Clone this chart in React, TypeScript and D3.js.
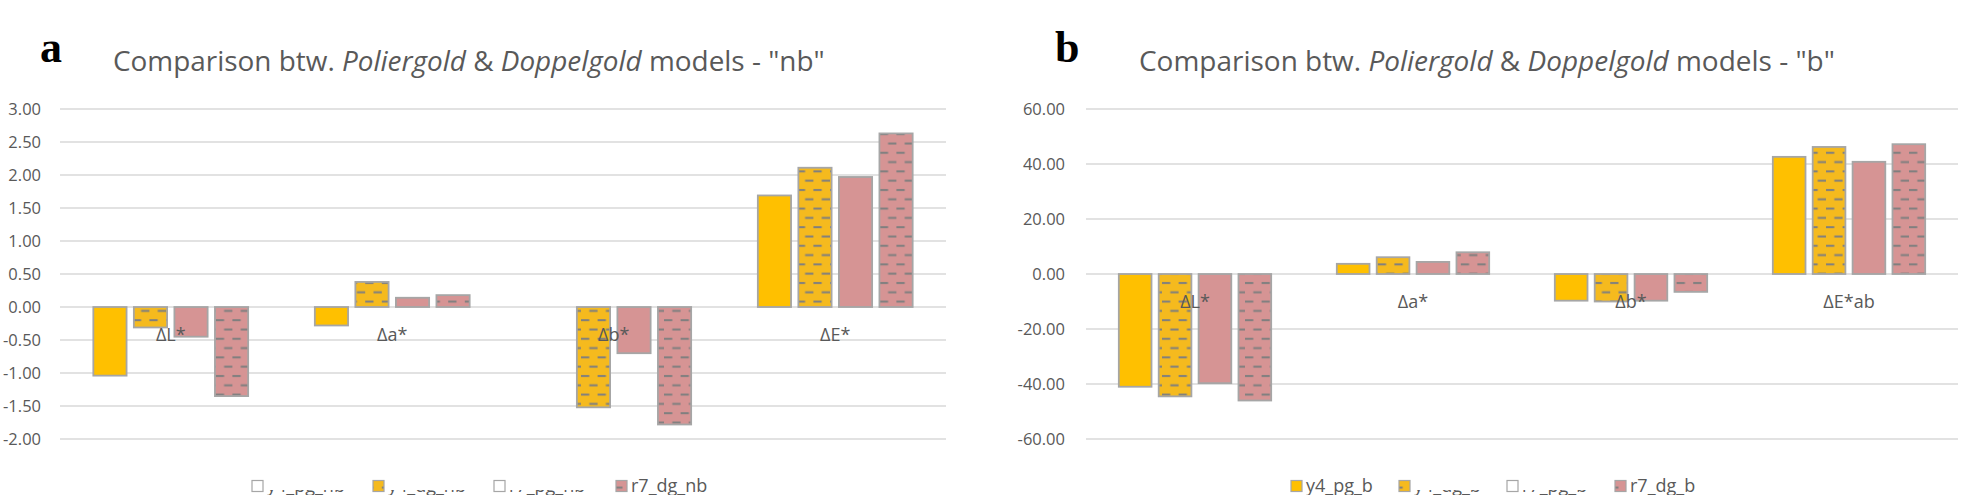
import React, { useLayoutEffect, useRef, useState } from "react";
import * as d3 from "d3";

// ---------- data ----------
const categoriesNb = ["ΔL*", "Δa*", "Δb*", "ΔE*"];
const categoriesB = ["ΔL*", "Δa*", "Δb*", "ΔE*ab"];
const seriesNb = ["y4_pg_nb", "y4_dg_nb", "r7_pg_nb", "r7_dg_nb"];
const seriesB = ["y4_pg_b", "y4_dg_b", "r7_pg_b", "r7_dg_b"];

const y4PgNb = [-1.04, -0.28, 0.0, 1.69];
const y4DgNb = [-0.31, 0.38, -1.52, 2.11];
const r7PgNb = [-0.45, 0.14, -0.7, 1.97];
const r7DgNb = [-1.35, 0.18, -1.78, 2.63];

const y4PgB = [-41.0, 3.7, -9.7, 42.6];
const y4DgB = [-44.5, 6.1, -10.0, 46.2];
const r7PgB = [-39.7, 4.4, -9.7, 40.8];
const r7DgB = [-46.0, 7.9, -6.5, 47.2];

const ticksNb = [-2, -1.5, -1, -0.5, 0, 0.5, 1, 1.5, 2, 2.5, 3];
const ticksB = [-60, -40, -20, 0, 20, 40, 60];

// ---------- styles ----------
const GOLD = "#FFC000";
const GOLD_PAT = "#F5BA1E";
const PINK = "#D69494";
const BORDER = "#A6A6A6";
const GRID = "#D9D9D9";
const TEXT = "#595959";
const FONT = "'Open Sans', sans-serif";

const fmt = d3.formatLocale({
  decimal: ".",
  thousands: ",",
  grouping: [3],
  currency: ["", ""],
  minus: "-",
}).format(".2f");

type Panel = {
  letter: string;
  letterX: number;
  titleX: number;
  titleLen: number;
  suffix: string;
  categories: string[];
  series: string[];
  values: number[][];
  ticks: number[];
  x0: number;
  x1: number;
  yTop: number;
  yBottom: number;
  tickRight: number;
  legendX: number[];
  legendShown: boolean[];
  legendFill: string[];
};

const panels: Panel[] = [
  {
    letter: "a",
    letterX: 40,
    titleX: 113,
    titleLen: 712,
    suffix: '"nb"',
    categories: categoriesNb,
    series: seriesNb,
    values: [y4PgNb, y4DgNb, r7PgNb, r7DgNb],
    ticks: ticksNb,
    x0: 60,
    x1: 946,
    yTop: 109,
    yBottom: 439,
    tickRight: 41,
    legendX: [252, 373, 494, 616],
    legendShown: [false, false, false, true],
    legendFill: ["#FFFFFF", "url(#patGold)", "#FFFFFF", "url(#patPink)"],
  },
  {
    letter: "b",
    letterX: 1055,
    titleX: 1139,
    titleLen: 696,
    suffix: '"b"',
    categories: categoriesB,
    series: seriesB,
    values: [y4PgB, y4DgB, r7PgB, r7DgB],
    ticks: ticksB,
    x0: 1086,
    x1: 1958,
    yTop: 109,
    yBottom: 439,
    tickRight: 1065,
    legendX: [1291, 1399, 1507, 1615],
    legendShown: [true, false, false, true],
    legendFill: [GOLD, "url(#patGold)", "#FFFFFF", "url(#patPink)"],
  },
];

const seriesFill = [GOLD, "url(#patGold)", PINK, "url(#patPink)"];

function Title({ x, len, suffix }: { x: number; len: number; suffix: string }) {
  const ref = useRef<SVGTextElement>(null);
  const [sx, setSx] = useState(1);
  useLayoutEffect(() => {
    if (ref.current) {
      const w = ref.current.getBBox().width;
      if (w > 0) setSx(len / w);
    }
  }, [len]);
  return (
    <g transform={`translate(${x},71) scale(${sx},1)`}>
      <text ref={ref} x={0} y={0} fontFamily={FONT} fontSize={27} fill={TEXT}>
        <tspan>Comparison btw. </tspan>
        <tspan fontStyle="italic">Poliergold</tspan>
        <tspan> &amp; </tspan>
        <tspan fontStyle="italic">Doppelgold</tspan>
        <tspan>{" models - " + suffix}</tspan>
      </text>
    </g>
  );
}

function ChartPanel({ p, idx }: { p: Panel; idx: number }) {
  const y = d3
    .scaleLinear()
    .domain([p.ticks[0], p.ticks[p.ticks.length - 1]])
    .range([p.yBottom, p.yTop]);
  const xCat = d3.scaleBand<string>().domain(p.categories).range([p.x0, p.x1]);
  const band = xCat.bandwidth();
  const step = band * 0.183;
  const barW = band * 0.15;
  const pin = (step - barW) / step;
  const xSer = d3
    .scaleBand<string>()
    .domain(p.series)
    .range([0, 4 * step])
    .paddingInner(pin)
    .paddingOuter(pin / 2);
  const groupOff = (band - 4 * step) / 2;
  const y0 = y(0);

  return (
    <g>
      <text
        x={p.letterX}
        y={62}
        fontFamily="'Liberation Serif', 'Times New Roman', serif"
        fontWeight="bold"
        fontSize={44}
        fill="#000"
      >
        {p.letter}
      </text>
      <Title x={p.titleX} len={p.titleLen} suffix={p.suffix} />
      {p.ticks.map((t) => (
        <g key={t}>
          <line
            x1={p.x0}
            x2={p.x1}
            y1={y(t)}
            y2={y(t)}
            stroke={GRID}
            strokeWidth={1.5}
          />
          <text
            x={p.tickRight}
            y={y(t)}
            dy="0.36em"
            textAnchor="end"
            fontFamily={FONT}
            fontSize={16.5}
            fill={TEXT}
          >
            {fmt(t)}
          </text>
        </g>
      ))}
      {p.series.map((s, si) =>
        p.categories.map((c, ci) => {
          const v = p.values[si][ci];
          if (v === 0) return null;
          const yv = y(v);
          return (
            <rect
              key={s + c}
              x={(xCat(c) as number) + groupOff + (xSer(s) as number)}
              y={Math.min(yv, y0)}
              width={xSer.bandwidth()}
              height={Math.abs(yv - y0)}
              fill={seriesFill[si]}
              stroke={BORDER}
              strokeWidth={1.8}
            />
          );
        })
      )}
      {p.categories.map((c) => (
        <text
          key={c}
          x={(xCat(c) as number) + band / 2}
          y={y0 + 34}
          textAnchor="middle"
          fontFamily={FONT}
          fontSize={18}
          fill={TEXT}
        >
          {c}
        </text>
      ))}
      <defs>
        <clipPath id={"legclip" + idx}>
          <rect x={0} y={490} width={1961} height={10} />
        </clipPath>
      </defs>
      {p.series.map((s, si) => (
        <g key={s}>
          <rect
            x={p.legendX[si]}
            y={480.5}
            width={11}
            height={11}
            fill={p.legendFill[si]}
            stroke={BORDER}
            strokeWidth={1.2}
          />
          <text
            x={p.legendX[si] + 15}
            y={491.5}
            fontFamily={FONT}
            fontSize={18}
            fill={TEXT}
            clipPath={p.legendShown[si] ? undefined : `url(#legclip${idx})`}
          >
            {s}
          </text>
        </g>
      ))}
    </g>
  );
}

export default function App() {
  return (
    <svg
      width={1961}
      height={495}
      style={{ position: "absolute", left: 0, top: 0, background: "#fff" }}
    >
      <defs>
        <pattern
          id="patGold"
          patternUnits="userSpaceOnUse"
          width={16.6}
          height={18.6}
        >
          <rect width={16.6} height={18.6} fill={GOLD_PAT} />
          <rect x={0} y={3} width={8.3} height={2} fill="#7F7F7F" />
          <rect x={8.3} y={12.3} width={8.3} height={2} fill="#7F7F7F" />
        </pattern>
        <pattern
          id="patPink"
          patternUnits="userSpaceOnUse"
          width={16.6}
          height={18.6}
        >
          <rect width={16.6} height={18.6} fill={PINK} />
          <rect x={0} y={3} width={8.3} height={2} fill="#7F7F7F" />
          <rect x={8.3} y={12.3} width={8.3} height={2} fill="#7F7F7F" />
        </pattern>
      </defs>
      <rect width={1961} height={495} fill="#fff" />
      {panels.map((p, i) => (
        <ChartPanel key={p.letter} p={p} idx={i} />
      ))}
    </svg>
  );
}
